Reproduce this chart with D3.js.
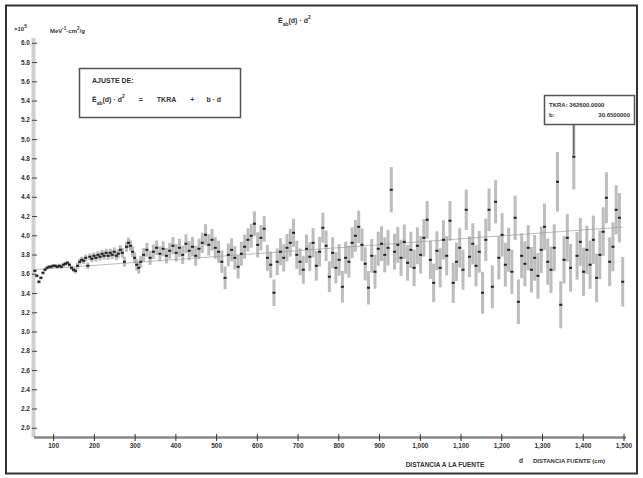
<!DOCTYPE html>
<html>
<head>
<meta charset="utf-8">
<script src="https://cdn.jsdelivr.net/npm/d3@7"></script>
<style>
  body { margin: 0; background: #fff; }
  text { font-family: "Liberation Sans", "DejaVu Sans", sans-serif; font-weight: bold; fill: #333; }
</style>
</head>
<body>
<div id="chart"></div>
<script>
// distancia a la fuente (cm)
const dist = [
  55, 60, 65, 70, 75, 80, 85, 90, 95, 100, 105, 110, 115, 120, 125, 130, 135, 140, 145, 150,
  155, 160, 165, 170, 175, 180, 185, 190, 195, 200, 205, 210, 215, 220, 225, 230, 235, 240, 245, 250,
  255, 260, 265, 270, 275, 280, 285, 290, 295, 300, 305, 310, 315,
  322, 330, 338, 346, 354, 362, 370, 378, 386, 394, 402, 410, 418, 426, 434, 442, 450, 458, 466, 474,
  482, 490, 498, 506, 514, 522, 530, 538, 546, 554, 562, 570, 578, 586, 594, 602, 610, 618, 626, 634,
  642, 650, 658, 666, 674, 682, 690, 698, 706, 714, 722, 730, 738, 746, 754, 762, 770, 778, 786, 794,
  802, 810, 818, 826, 834, 842, 850, 858, 866, 874, 882, 890, 898, 906, 914, 922, 930, 938, 946, 954,
  962, 970, 978, 986, 994, 1002, 1010, 1018, 1026, 1034, 1042, 1050, 1058, 1066, 1074, 1082, 1090, 1098, 1106, 1114,
  1122, 1130, 1138, 1146, 1154, 1162, 1170, 1178, 1186, 1194, 1202, 1210, 1218, 1226, 1234, 1242, 1250, 1258, 1266, 1274,
  1282, 1290, 1298, 1306, 1314, 1322, 1330, 1338, 1346, 1354, 1362, 1370, 1378, 1386, 1394, 1402, 1410, 1418, 1426, 1434,
  1442, 1450, 1458, 1466, 1474, 1482, 1490, 1498
];
// Eab(d)*d^2  (x10^5 MeV^-1 cm^2/g)
const eabD2 = [
  3.631, 3.579, 3.517, 3.558, 3.610, 3.642, 3.662, 3.673, 3.673, 3.683, 3.683, 3.673, 3.683, 3.673, 3.694, 3.704, 3.714, 3.694, 3.662, 3.642,
  3.631, 3.683, 3.725, 3.745, 3.735, 3.766, 3.683, 3.777, 3.756, 3.787, 3.766, 3.797, 3.777, 3.808, 3.787, 3.818, 3.787, 3.818, 3.797, 3.829,
  3.787, 3.808, 3.849, 3.818, 3.725, 3.881, 3.922, 3.891, 3.829, 3.766, 3.694, 3.662, 3.725,
  3.797, 3.849, 3.766, 3.829, 3.870, 3.808, 3.860, 3.787, 3.839, 3.891, 3.818, 3.870, 3.797, 3.912, 3.839, 3.881, 3.787, 3.860, 3.922, 4.005,
  3.901, 3.953, 3.870, 3.829, 3.725, 3.558, 3.797, 3.849, 3.766, 3.673, 3.808, 3.881, 3.953, 3.995, 4.120, 3.901, 3.974, 4.068, 3.766, 3.694,
  3.403, 3.725, 3.829, 3.766, 3.870, 3.922, 4.026, 3.797, 3.725, 3.642, 3.860, 3.777, 3.922, 3.683, 3.829, 4.078, 3.891, 3.569, 3.818, 3.662,
  3.745, 3.465, 3.766, 3.725, 3.922, 3.995, 4.088, 3.901, 3.704, 3.455, 3.787, 3.621, 3.860, 3.912, 3.797, 3.870, 4.473, 3.829, 3.901, 3.766,
  3.932, 3.714, 3.849, 3.662, 3.891, 3.797, 3.974, 4.161, 3.745, 3.506, 3.839, 3.662, 3.953, 3.787, 4.151, 3.506, 3.725, 3.870, 3.642, 4.265,
  3.777, 3.912, 3.683, 3.829, 3.403, 3.953, 4.265, 3.465, 4.348, 3.766, 4.005, 3.694, 3.849, 3.621, 4.182, 3.309, 3.787, 3.704, 3.870, 3.642,
  3.766, 3.579, 3.849, 4.088, 3.725, 3.642, 3.870, 4.556, 3.278, 3.745, 3.974, 3.662, 4.816, 3.787, 3.932, 3.621, 3.849, 3.694, 3.953, 3.558,
  3.797, 4.037, 4.390, 3.725, 3.881, 4.265, 4.182, 3.517
];
// error (+/-)
const errs = [
  0.015, 0.016, 0.018, 0.017, 0.016, 0.017, 0.018, 0.018, 0.019, 0.019, 0.020, 0.020, 0.021, 0.021, 0.022, 0.022, 0.023, 0.023, 0.024, 0.025,
  0.028, 0.030, 0.030, 0.032, 0.033, 0.034, 0.034, 0.035, 0.036, 0.037, 0.038, 0.038, 0.039, 0.040, 0.041, 0.042, 0.042, 0.043, 0.044, 0.045,
  0.046, 0.047, 0.048, 0.050, 0.052, 0.053, 0.054, 0.055, 0.056, 0.057, 0.058, 0.060, 0.062,
  0.070, 0.072, 0.074, 0.075, 0.076, 0.078, 0.078, 0.080, 0.082, 0.090, 0.092, 0.094, 0.096, 0.098, 0.100, 0.102, 0.104, 0.105, 0.106, 0.110,
  0.112, 0.113, 0.114, 0.115, 0.116, 0.118, 0.118, 0.120, 0.122, 0.123, 0.124, 0.125, 0.120, 0.124, 0.128, 0.130, 0.132, 0.134, 0.135, 0.136,
  0.138, 0.139, 0.140, 0.142, 0.143, 0.144, 0.145, 0.146, 0.140, 0.145, 0.148, 0.150, 0.152, 0.154, 0.155, 0.156, 0.158, 0.160, 0.162, 0.163,
  0.164, 0.165, 0.166, 0.166, 0.160, 0.165, 0.168, 0.170, 0.172, 0.174, 0.175, 0.176, 0.178, 0.180, 0.182, 0.184, 0.235, 0.186, 0.187, 0.188,
  0.180, 0.185, 0.188, 0.190, 0.192, 0.194, 0.195, 0.196, 0.198, 0.200, 0.202, 0.203, 0.204, 0.205, 0.206, 0.208, 0.200, 0.205, 0.208, 0.210,
  0.212, 0.214, 0.215, 0.216, 0.218, 0.220, 0.222, 0.223, 0.224, 0.225, 0.226, 0.228, 0.229, 0.230, 0.230, 0.232, 0.233, 0.234, 0.235, 0.236,
  0.238, 0.239, 0.240, 0.242, 0.240, 0.243, 0.244, 0.310, 0.245, 0.246, 0.247, 0.248, 0.340, 0.248, 0.249, 0.250, 0.250, 0.251, 0.252, 0.252,
  0.253, 0.254, 0.265, 0.254, 0.255, 0.256, 0.256, 0.257
];
const yTicks = [2.0, 2.2, 2.4, 2.6, 2.8, 3.0, 3.2, 3.4, 3.6, 3.8, 4.0, 4.2, 4.4, 4.6, 4.8, 5.0, 5.2, 5.4, 5.6, 5.8, 6.0];
const xTicks = [100, 200, 300, 400, 500, 600, 700, 800, 900, 1000, 1100, 1200, 1300, 1400, 1500];
// ajuste lineal: Eab(d)*d^2 = TKRA + b*d
const tkra = 3.626;
const bSlope = 0.0003065;
const peakIndex = 185;

const W = 643, H = 478;
const svg = d3.select("#chart")
  .append("svg")
    .attr("width", W)
    .attr("height", H);

// marco exterior
svg.append("rect")
  .attr("x", 6).attr("y", 5.5)
  .attr("width", 631).attr("height", 468)
  .attr("fill", "none")
  .attr("stroke", "#333")
  .attr("stroke-width", 2);

const x = d3.scaleLinear()
  .domain([53, 1500])
  .range([34, 623.5]);
const y = d3.scaleLinear()
  .domain([1.9, 6.05])
  .range([437.4, 38]);

// banda gris del eje Y
svg.append("rect")
  .attr("x", 31.5).attr("y", y(6.05))
  .attr("width", 4).attr("height", y(1.9) - y(6.05))
  .attr("fill", "#d0d0d0");

const yAxis = svg.append("g")
  .attr("transform", "translate(37,0)")
  .call(d3.axisLeft(y).tickValues(yTicks).tickSize(5).tickFormat(d3.format(".1f")));
yAxis.select(".domain").remove();
yAxis.selectAll(".tick line").attr("stroke", "#444");
yAxis.selectAll(".tick text").attr("x", -7).attr("font-size", 6.5).attr("fill", "#444");

// eje X
svg.append("line")
  .attr("x1", 34).attr("x2", 626)
  .attr("y1", 437.5).attr("y2", 437.5)
  .attr("stroke", "#888")
  .attr("stroke-width", 2.5);
const xAxis = svg.append("g")
  .attr("transform", "translate(0,441)")
  .call(d3.axisBottom(x).tickValues(xTicks).tickSize(-7).tickFormat(d3.format(",")));
xAxis.select(".domain").remove();
xAxis.selectAll(".tick line").attr("stroke", "#333");
xAxis.selectAll(".tick text").attr("y", 2).attr("font-size", 6.5).attr("fill", "#444");

// recta de ajuste
svg.append("line")
  .attr("x1", x(53)).attr("y1", y(tkra + bSlope * 53))
  .attr("x2", x(1498)).attr("y2", y(tkra + bSlope * 1498))
  .attr("stroke", "#bbb")
  .attr("stroke-width", 1);

const pts = dist.map((d, i) => ({d: d, v: eabD2[i], e: errs[i]}));

// barras de error
svg.append("g")
  .selectAll("line")
  .data(pts)
  .join("line")
    .attr("x1", p => x(p.d)).attr("x2", p => x(p.d))
    .attr("y1", p => y(p.v + p.e)).attr("y2", p => y(p.v - p.e))
    .attr("stroke", "#9a9a9a")
    .attr("stroke-opacity", 0.65)
    .attr("stroke-width", 3);

// puntos
svg.append("g")
  .selectAll("rect")
  .data(pts)
  .join("rect")
    .attr("x", p => x(p.d) - 1.5)
    .attr("y", p => y(p.v) - 1)
    .attr("width", 3)
    .attr("height", 2)
    .attr("fill", "#222");

// textos superiores
svg.append("text")
  .attr("x", 14).attr("y", 31).attr("font-size", 6)
  .text("×10")
  .append("tspan").attr("dy", -3).attr("font-size", 5).text("5");
const units = svg.append("text")
  .attr("x", 50).attr("y", 33).attr("font-size", 6);
units.append("tspan").text("MeV");
units.append("tspan").attr("dy", -3).attr("font-size", 4.5).text("-1");
units.append("tspan").attr("dy", 3).text("·cm");
units.append("tspan").attr("dy", -3).attr("font-size", 4.5).text("2");
units.append("tspan").attr("dy", 3).text("/g");

function eabLabel(sel) {
  sel.append("tspan").text("Ē");
  sel.append("tspan").attr("dy", 3).attr("font-size", 5).text("ab");
  sel.append("tspan").attr("dy", -3).text("(d) · d");
  sel.append("tspan").attr("dy", -4).attr("font-size", 5).text("2");
}
const title = svg.append("text")
  .attr("x", 278).attr("y", 23).attr("font-size", 7);
eabLabel(title);

// caja de ajuste
svg.append("rect")
  .attr("x", 79.5).attr("y", 68.5)
  .attr("width", 161).attr("height", 49)
  .attr("fill", "#fff")
  .attr("stroke", "#555")
  .attr("stroke-width", 1.5);
svg.append("text")
  .attr("x", 92).attr("y", 83).attr("font-size", 7)
  .text("AJUSTE DE:");
const fitEq = svg.append("text")
  .attr("x", 92).attr("y", 102).attr("font-size", 7);
eabLabel(fitEq);
fitEq.append("tspan").attr("dy", 4).attr("dx", 14).text("=");
fitEq.append("tspan").attr("dx", 14).text("TKRA");
fitEq.append("tspan").attr("dx", 14).text("+");
fitEq.append("tspan").attr("dx", 12).text("b · d");

// anotacion del pico
const peak = pts[peakIndex];
svg.append("line")
  .attr("x1", x(peak.d)).attr("x2", x(peak.d))
  .attr("y1", 125).attr("y2", y(peak.v) - 2)
  .attr("stroke", "#444")
  .attr("stroke-width", 1);
svg.append("rect")
  .attr("x", 544.5).attr("y", 95.5)
  .attr("width", 90).attr("height", 29)
  .attr("fill", "#fff")
  .attr("stroke", "#555")
  .attr("stroke-width", 1.5);
svg.append("text")
  .attr("x", 549).attr("y", 107).attr("font-size", 6)
  .text("TKRA: 362600.0000");
svg.append("text")
  .attr("x", 549).attr("y", 117).attr("font-size", 6)
  .text("b:");
svg.append("text")
  .attr("x", 630).attr("y", 117).attr("font-size", 6)
  .attr("text-anchor", "end")
  .text("30.6500000");

// titulos del eje X
svg.append("text")
  .attr("x", 445).attr("y", 467).attr("font-size", 6.5)
  .attr("text-anchor", "middle")
  .text("DISTANCIA A LA FUENTE");
svg.append("text")
  .attr("x", 519).attr("y", 463).attr("font-size", 6.5)
  .text("d");
svg.append("text")
  .attr("x", 533).attr("y", 463).attr("font-size", 6)
  .text("DISTANCIA FUENTE (cm)");
</script>
</body>
</html>
